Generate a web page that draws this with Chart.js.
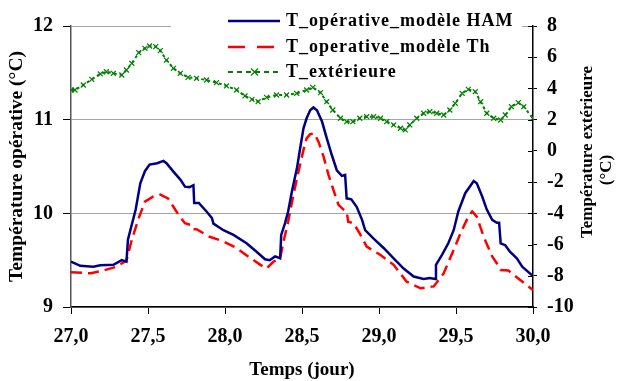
<!DOCTYPE html>
<html>
<head>
<meta charset="utf-8">
<script src="https://cdn.jsdelivr.net/npm/chart.js@4/dist/chart.umd.min.js"></script>
<style>
  html, body { margin: 0; padding: 0; background: #fff; }
  #wrap { width: 618px; height: 381px; }
</style>
</head>
<body>
<div id="wrap"><canvas id="chart"></canvas></div>
<script>
// --- Data ---

// T_opérative_modèle HAM (left axis, °C)
const hamT = [27.00, 27.06, 27.145, 27.19, 27.275, 27.33, 27.36, 27.37, 27.42, 27.45,
  27.48, 27.51, 27.56, 27.60, 27.62, 27.665, 27.71, 27.74, 27.77, 27.795,
  27.80, 27.83, 27.88, 27.915, 27.925, 27.99, 28.055, 28.14, 28.205, 28.26,
  28.29, 28.325, 28.358, 28.365, 28.39, 28.41, 28.434, 28.467, 28.488, 28.51,
  28.53, 28.553, 28.574, 28.597, 28.63, 28.661, 28.694, 28.726, 28.759, 28.78,
  28.79, 28.82, 28.855, 28.89, 28.91, 28.965, 29.03, 29.095, 29.16, 29.225,
  29.29, 29.33, 29.365, 29.37, 29.41, 29.45, 29.485, 29.515, 29.56, 29.615,
  29.635, 29.67, 29.70, 29.735, 29.765, 29.78, 29.79, 29.82, 29.85, 29.895,
  29.93, 30.00];
const hamV = [9.485, 9.44, 9.43, 9.445, 9.45, 9.50, 9.485, 9.72, 10.04, 10.32,
  10.45, 10.52, 10.535, 10.56, 10.535, 10.445, 10.36, 10.285, 10.28, 10.30,
  10.11, 10.11, 10.02, 9.95, 9.89, 9.82, 9.77, 9.68, 9.59, 9.51,
  9.50, 9.54, 9.52, 9.77, 9.895, 10.02, 10.23, 10.48, 10.695, 10.91,
  11.015, 11.10, 11.13, 11.10, 10.98, 10.80, 10.62, 10.46, 10.40, 10.41,
  10.16, 10.15, 10.07, 9.93, 9.82, 9.73, 9.63, 9.52, 9.41, 9.325,
  9.30, 9.31, 9.30, 9.45, 9.56, 9.68, 9.82, 10.02, 10.215, 10.345,
  10.32, 10.18, 10.04, 9.93, 9.90, 9.90, 9.68, 9.66, 9.59, 9.52,
  9.43, 9.33];

// T_operative_modèle Th (left axis, °C)
const thT = [27.00, 27.13, 27.21, 27.295, 27.36, 27.395, 27.44, 27.48, 27.535, 27.58,
  27.63, 27.665, 27.70, 27.74, 27.78, 27.795, 27.815, 27.90, 27.99, 28.075,
  28.15, 28.23, 28.27, 28.315, 28.358, 28.38, 28.41, 28.444, 28.477, 28.51,
  28.53, 28.553, 28.58, 28.607, 28.64, 28.672, 28.704, 28.737, 28.77, 28.79,
  28.80, 28.835, 28.88, 28.92, 29.01, 29.095, 29.18, 29.27, 29.355, 29.42,
  29.485, 29.53, 29.58, 29.605, 29.635, 29.68, 29.735, 29.78, 29.79, 29.84,
  29.915, 30.00];
const thV = [9.37, 9.36, 9.39, 9.43, 9.495, 9.72, 9.95, 10.125, 10.18, 10.20,
  10.16, 10.07, 9.98, 9.895, 9.875, 9.83, 9.83, 9.75, 9.70, 9.63,
  9.54, 9.45, 9.41, 9.485, 9.52, 9.70, 9.91, 10.195, 10.445, 10.68,
  10.80, 10.845, 10.855, 10.765, 10.605, 10.41, 10.25, 10.09, 10.04, 10.02,
  9.91, 9.895, 9.77, 9.645, 9.555, 9.45, 9.27, 9.20, 9.22, 9.36,
  9.61, 9.79, 9.965, 10.02, 9.965, 9.75, 9.54, 9.43, 9.395, 9.39,
  9.29, 9.18];

// T_extérieure (right axis, °C)
const extT = [27.00, 27.026, 27.08, 27.135, 27.19, 27.23, 27.275, 27.33, 27.36, 27.395,
  27.44, 27.48, 27.51, 27.55, 27.58, 27.62, 27.665, 27.71, 27.76, 27.815,
  27.88, 27.945, 28.01, 28.075, 28.13, 28.175, 28.215, 28.27, 28.335, 28.40,
  28.465, 28.53, 28.57, 28.62, 28.66, 28.70, 28.75, 28.79, 28.83, 28.875,
  28.92, 28.965, 29.01, 29.05, 29.095, 29.14, 29.17, 29.20, 29.245, 29.29,
  29.33, 29.375, 29.42, 29.46, 29.495, 29.54, 29.58, 29.625, 29.66, 29.70,
  29.745, 29.79, 29.82, 29.86, 29.905, 29.94, 30.00];
const extV = [3.9, 3.9, 4.22, 4.58, 4.93, 5.07, 4.97, 4.86, 5.18, 5.61,
  6.29, 6.57, 6.72, 6.68, 6.42, 5.82, 5.29, 4.97, 4.71, 4.65,
  4.54, 4.37, 4.16, 3.90, 3.52, 3.30, 3.15, 3.43, 3.58, 3.58,
  3.69, 3.90, 4.07, 3.73, 3.15, 2.62, 2.09, 1.87, 1.87, 2.09,
  2.19, 2.19, 2.09, 1.87, 1.66, 1.45, 1.34, 1.66, 2.09, 2.41,
  2.51, 2.41, 2.30, 2.62, 3.05, 3.69, 3.94, 3.79, 3.15, 2.41,
  2.09, 1.98, 2.30, 2.83, 3.09, 2.83, 2.09];

const seriesNames = ['T_opérative_modèle HAM', 'T_operative_modèle Th', 'T_extérieure'];
const leftTitle = 'Température opérative (°C)';
const rightTitle = ['Température extérieure', '(°C)'];
const bottomTitle = 'Temps (jour)';

const NAVY = '#000080';
const RED = '#ff0000';
const GREEN = '#008000';
const SERIF = '"Liberation Serif", "Times New Roman", serif';

function pairs(xs, ys) {
    return xs.map((x, i) => ({ x: x, y: ys[i] }));
}

// --- Extra drawing: inner tick halves, right title, legend box ---
const extras = {
    id: 'extras',
    afterDraw(chart) {
        const ctx = chart.ctx;
        const y2 = chart.scales.y2;
        const area = chart.chartArea;
        ctx.save();

        // right axis ticks cross the axis line
        ctx.strokeStyle = '#000';
        ctx.lineWidth = 1;
        y2.ticks.forEach(t => {
            const py = Math.round(y2.getPixelForValue(t.value)) + 0.5;
            ctx.beginPath();
            ctx.moveTo(area.right - 5, py);
            ctx.lineTo(area.right, py);
            ctx.stroke();
        });

        // right axis title, reads bottom to top
        ctx.fillStyle = '#000';
        ctx.font = 'bold 17px ' + SERIF;
        ctx.textAlign = 'center';
        ctx.textBaseline = 'middle';
        ctx.save();
        ctx.translate(588, 152);
        ctx.rotate(-Math.PI / 2);
        ctx.fillText(rightTitle[0], 0, 0);
        ctx.restore();
        ctx.save();
        ctx.translate(607, 170);
        ctx.rotate(-Math.PI / 2);
        ctx.fillText(rightTitle[1], 0, 0);
        ctx.restore();

        // legend (white box hides the top grid line)
        ctx.fillStyle = '#fff';
        ctx.fillRect(171, 0, 351, 56);

        const rows = [21, 47, 72];
        const x0 = 228, x1 = 280;

        ctx.lineWidth = 2.5;
        ctx.strokeStyle = NAVY;
        ctx.beginPath(); ctx.moveTo(x0, rows[0]); ctx.lineTo(x1, rows[0]); ctx.stroke();

        ctx.strokeStyle = RED;
        ctx.setLineDash([17, 12]);
        ctx.beginPath(); ctx.moveTo(x0, rows[1]); ctx.lineTo(x1 - 4, rows[1]); ctx.stroke();

        ctx.strokeStyle = GREEN;
        ctx.lineWidth = 2;
        ctx.setLineDash([5, 4]);
        ctx.beginPath(); ctx.moveTo(x0, rows[2]); ctx.lineTo(x1, rows[2]); ctx.stroke();
        ctx.setLineDash([]);
        ctx.lineWidth = 1.2;
        ctx.beginPath();
        ctx.moveTo(251, rows[2] - 3.5); ctx.lineTo(258, rows[2] + 3.5);
        ctx.moveTo(258, rows[2] - 3.5); ctx.lineTo(251, rows[2] + 3.5);
        ctx.stroke();

        ctx.fillStyle = '#000';
        ctx.font = 'bold 18px ' + SERIF;
        ctx.textAlign = 'left';
        ctx.textBaseline = 'middle';
        ctx.letterSpacing = '1px';
        seriesNames.forEach((name, i) => ctx.fillText(name, 286, rows[i]));

        ctx.restore();
    }
};

Chart.defaults.font.family = SERIF;
Chart.defaults.font.weight = 'bold';
Chart.defaults.color = '#000';

const ctx = document.getElementById('chart').getContext('2d');
new Chart(ctx, {
    type: 'line',
    data: {
        datasets: [{
            label: seriesNames[0],
            data: pairs(hamT, hamV),
            borderColor: NAVY,
            borderWidth: 2.5,
            pointRadius: 0,
            tension: 0,
            yAxisID: 'y'
        }, {
            label: seriesNames[1],
            data: pairs(thT, thV),
            borderColor: RED,
            borderWidth: 2.5,
            borderDash: [11, 6],
            pointRadius: 0,
            tension: 0,
            yAxisID: 'y'
        }, {
            label: seriesNames[2],
            data: pairs(extT, extV),
            borderColor: GREEN,
            borderWidth: 2,
            borderDash: [3, 3],
            pointStyle: 'crossRot',
            pointRadius: 3.5,
            pointBorderColor: GREEN,
            pointBorderWidth: 1.2,
            tension: 0,
            yAxisID: 'y2'
        }]
    },
    options: {
        responsive: true,
        maintainAspectRatio: false,
        animation: false,
        layout: { padding: { top: 26, right: 0, bottom: 0, left: 0 } },
        plugins: {
            legend: { display: false },
            tooltip: { enabled: false }
        },
        scales: {
            x: {
                type: 'linear',
                min: 27,
                max: 30,
                afterFit: s => { s.height = 74; },
                ticks: {
                    stepSize: 0.5,
                    autoSkip: false,
                    maxRotation: 0,
                    padding: 11,
                    font: { size: 20, weight: 'bold' },
                    callback: v => Number(v).toFixed(1).replace('.', ',')
                },
                grid: { drawOnChartArea: false, tickLength: 7, tickColor: '#000' },
                border: { color: '#000', width: 1.5 },
                title: {
                    display: true,
                    text: bottomTitle,
                    font: { size: 19, weight: 'bold' },
                    padding: { top: 0, bottom: 0 }
                }
            },
            y: {
                position: 'left',
                min: 9,
                max: 12,
                afterFit: s => { s.width = 71; },
                ticks: {
                    stepSize: 1,
                    padding: 10,
                    font: { size: 20, weight: 'bold' }
                },
                grid: { color: '#a6a6a6', lineWidth: 1, tickLength: 8, tickColor: '#000' },
                border: { color: '#555', width: 1.5 },
                title: {
                    display: true,
                    text: leftTitle,
                    font: { size: 19.5, weight: 'bold' },
                    padding: { top: 5, bottom: 0 }
                }
            },
            y2: {
                position: 'right',
                min: -10,
                max: 8,
                afterFit: s => { s.width = 85; },
                ticks: {
                    stepSize: 2,
                    padding: 10,
                    font: { size: 20, weight: 'bold' },
                    callback: v => String(v)
                },
                grid: { drawOnChartArea: false, tickLength: 4, tickColor: '#000' },
                border: { color: '#000', width: 1.5 }
            }
        }
    },
    plugins: [extras]
});
</script>
</body>
</html>
